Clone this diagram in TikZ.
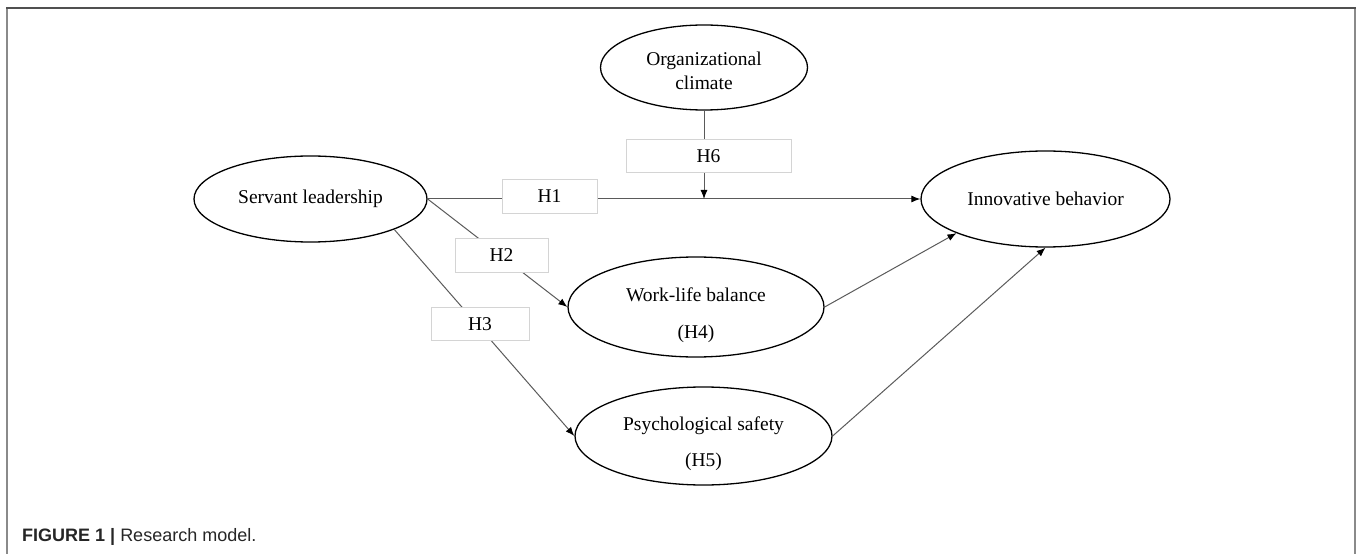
\documentclass[tikz,border=0pt]{standalone}
\usepackage{fontspec}
\setmainfont{Liberation Serif}
\newfontfamily\capfont{Liberation Sans}
\usetikzlibrary{shapes.geometric,arrows.meta}
\definecolor{framegray}{HTML}{8A8A8A}
\definecolor{frametop}{HTML}{505050}
\definecolor{linegray}{HTML}{5A5A5A}
\definecolor{boxgray}{HTML}{D4D4D4}
\tikzset{
  construct/.style={ellipse, draw=black, line width=1.3bp, fill=white, inner sep=0pt,
    align=center, font=\fontsize{19.5bp}{23.5bp}\selectfont},
  ctext/.style={anchor=base, inner sep=0pt, font=\fontsize{19.5bp}{23.5bp}\selectfont},
  hypbox/.style={rectangle, draw=boxgray, line width=0.9bp, fill=white, inner sep=0pt,
    minimum height=33.5bp, font=\fontsize{19.5bp}{23.5bp}\selectfont},
  conn/.style={draw=linegray, line width=1bp},
  arr/.style={conn, -{Latex[length=9bp,width=7bp,color=black]}},
}
\begin{document}
\begin{tikzpicture}[x=1bp,y=-1bp]
\useasboundingbox (0,0) rectangle (1357,554);
% frame
\draw[framegray, line width=2bp] (7.3,556) -- (7.3,8);
\draw[framegray, line width=2bp] (1355,8) -- (1355,556);
\draw[frametop, line width=1.3bp] (6.3,8) -- (1356,8);
% constructs
\node[construct, minimum width=207bp, minimum height=85bp] (org) at (704,67.5) {};
\node[ctext] (orgt1) at (704,65.5) {Organizational};
\node[ctext] (orgt2) at (704,89.5) {climate};
\node[construct, minimum width=233bp, minimum height=86bp] (sl) at (310.5,199) {Servant leadership};
\node[construct, minimum width=249bp, minimum height=96bp] (inn) at (1045.5,199) {Innovative behavior};
\node[construct, minimum width=256bp, minimum height=100bp] (wl) at (696,307) {};
\node[ctext] (wlt1) at (696,301.5) {Work-life balance};
\node[ctext] (wlt2) at (696,338.5) {(H4)};
\node[construct, minimum width=257bp, minimum height=98bp] (ps) at (703.5,436) {};
\node[ctext] (pst1) at (703.5,430.5) {Psychological safety};
\node[ctext] (pst2) at (703.5,466.5) {(H5)};
% connectors
\coordinate (mod) at (org.south |- sl.east);
\draw[arr] (sl.east) -- (inn.west);
\draw[arr] (org.south) -- (mod);
\draw[arr] (sl.east) -- (wl.west);
\draw[arr] (sl.-20) -- (ps.west);
\draw[arr] (wl.east) -- (inn.201);
\draw[arr] (ps.east) -- (inn.south);
% hypothesis labels
\node[hypbox, minimum width=95bp] (h1) at (549.5,196.5) {H1};
\node[hypbox, minimum width=93bp] (h2) at (501.5,255.5) {H2};
\node[hypbox, minimum width=98bp] (h3) at (480,324) {H3};
\node[hypbox, minimum width=165bp] (h6) at (708.5,156) {H6};
% caption
\node[anchor=base west, inner sep=0pt, text=black!85, font=\capfont\fontsize{18bp}{21bp}\selectfont] (cap) at (22,541) {\textbf{FIGURE 1 |} Research model.};
\end{tikzpicture}
\end{document}
